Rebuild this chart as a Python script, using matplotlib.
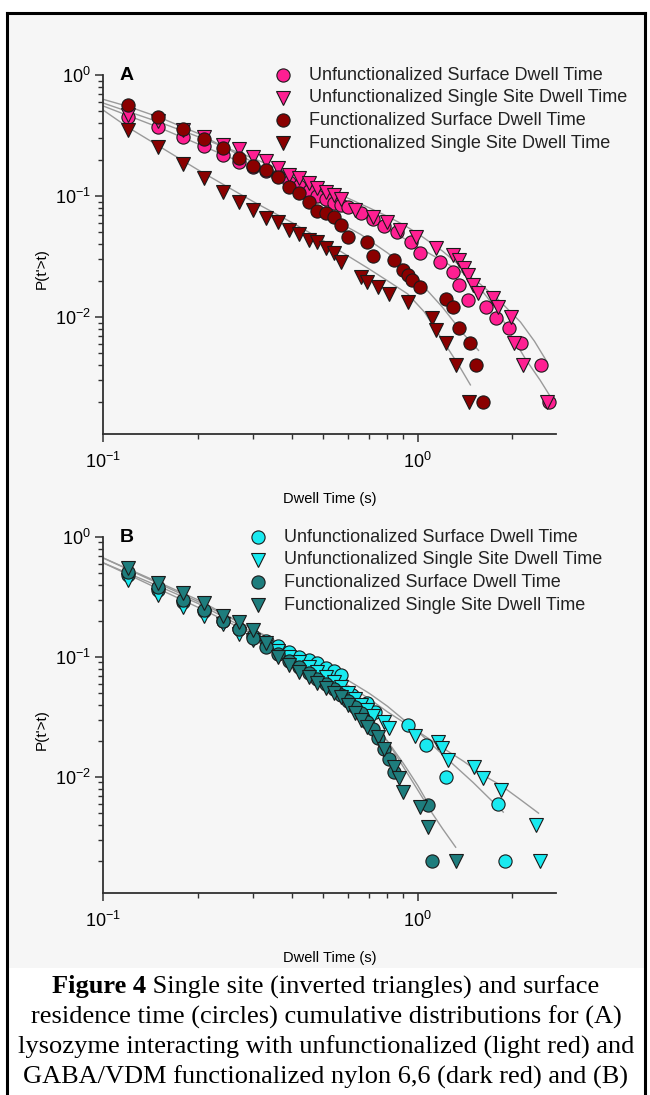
import matplotlib
matplotlib.use("Agg")
import matplotlib.pyplot as plt
from matplotlib.lines import Line2D
from matplotlib.patches import Rectangle
from matplotlib.ticker import FixedLocator, FixedFormatter, LogLocator, NullFormatter

plt.rcParams['font.family'] = ['Liberation Sans', 'DejaVu Sans']
plt.rcParams['mathtext.fontset'] = 'custom'
plt.rcParams['mathtext.rm'] = 'Liberation Sans'
plt.rcParams['mathtext.it'] = 'Liberation Sans:italic'
plt.rcParams['mathtext.bf'] = 'Liberation Sans:bold'

# ---- data (dwell time in s, P(t'>t)) ----
legend_labels = ["Unfunctionalized Surface Dwell Time",
                 "Unfunctionalized Single Site Dwell Time",
                 "Functionalized Surface Dwell Time",
                 "Functionalized Single Site Dwell Time"]

# panel A: lysozyme
a_uf_surf_t = [0.12, 0.15, 0.18, 0.21, 0.24, 0.27, 0.30, 0.33, 0.36, 0.39, 0.42, 0.45, 0.48, 0.51, 0.54, 0.57,
               0.60, 0.66, 0.72, 0.78, 0.86, 0.95, 1.02, 1.18, 1.29, 1.35, 1.44, 1.65, 1.77, 1.95, 2.13, 2.46, 2.61]
a_uf_surf_p = [0.45, 0.37, 0.31, 0.26, 0.218, 0.19, 0.175, 0.16, 0.145, 0.13, 0.12, 0.11, 0.10, 0.094, 0.088, 0.084,
               0.081, 0.072, 0.064, 0.057, 0.05, 0.042, 0.0338, 0.0285, 0.0235, 0.0184, 0.0138, 0.0121, 0.0098, 0.0081,
               0.0061, 0.004, 0.002]
a_uf_site_t = [0.12, 0.15, 0.18, 0.21, 0.24, 0.27, 0.30, 0.33, 0.36, 0.39, 0.42, 0.45, 0.48, 0.51, 0.54, 0.57,
               0.63, 0.72, 0.80, 0.88, 0.99, 1.14, 1.29, 1.35, 1.40, 1.44, 1.50, 1.55, 1.73, 1.80, 1.98, 2.02, 2.16, 2.58]
a_uf_site_p = [0.47, 0.42, 0.35, 0.31, 0.264, 0.245, 0.21, 0.195, 0.17, 0.149, 0.14, 0.128, 0.116, 0.108, 0.102, 0.094,
               0.0766, 0.067, 0.061, 0.0524, 0.0458, 0.0372, 0.0325, 0.0296, 0.0254, 0.0222, 0.0184, 0.0158, 0.0144,
               0.0121, 0.010, 0.0061, 0.004, 0.002]
a_f_surf_t = [0.12, 0.15, 0.18, 0.21, 0.24, 0.27, 0.30, 0.33, 0.36, 0.39, 0.42, 0.45, 0.48, 0.51, 0.54, 0.57, 0.60,
              0.69, 0.72, 0.84, 0.90, 0.93, 0.96, 1.02, 1.23, 1.29, 1.35, 1.47, 1.53, 1.61]
a_f_surf_p = [0.565, 0.45, 0.36, 0.295, 0.249, 0.206, 0.177, 0.164, 0.1435, 0.1186, 0.106, 0.089, 0.075, 0.072, 0.067,
              0.0575, 0.046, 0.0417, 0.0319, 0.0296, 0.0245, 0.0222, 0.0202, 0.0177, 0.0141, 0.0121, 0.0081, 0.0061,
              0.004, 0.002]
a_f_site_t = [0.12, 0.15, 0.18, 0.21, 0.24, 0.27, 0.30, 0.33, 0.36, 0.39, 0.42, 0.45, 0.48, 0.51, 0.54, 0.57,
              0.66, 0.69, 0.75, 0.81, 0.93, 1.11, 1.14, 1.23, 1.32, 1.45]
a_f_site_p = [0.35, 0.254, 0.184, 0.141, 0.108, 0.089, 0.0766, 0.066, 0.061, 0.052, 0.049, 0.043, 0.0417, 0.037, 0.034,
              0.0285, 0.0214, 0.0195, 0.0177, 0.0155, 0.0133, 0.0098, 0.0078, 0.0061, 0.004, 0.002]

# fitted curves, panel A
a_fit_uf_surf_t = [0.1, 0.15, 0.2, 0.3, 0.4, 0.5, 0.6, 0.7, 0.8, 0.9, 1.0, 1.2, 1.4, 1.55, 1.8, 2.12, 2.35, 2.57]
a_fit_uf_surf_p = [0.555, 0.37, 0.27, 0.172, 0.125, 0.097, 0.078, 0.064, 0.053, 0.045, 0.038, 0.029, 0.023, 0.0195,
                   0.014, 0.0091, 0.0063, 0.0043]
a_fit_uf_site_t = [0.1, 0.15, 0.2, 0.3, 0.4, 0.5, 0.6, 0.7, 0.8, 0.9, 1.0, 1.2, 1.4, 1.6, 1.8, 2.0, 2.2, 2.45, 2.7]
a_fit_uf_site_p = [0.587, 0.41, 0.31, 0.205, 0.15, 0.118, 0.096, 0.08, 0.068, 0.058, 0.049, 0.035, 0.025, 0.0165,
                   0.0112, 0.0068, 0.0045, 0.003, 0.002]
a_fit_f_surf_t = [0.1, 0.12, 0.15, 0.2, 0.3, 0.4, 0.5, 0.6, 0.66, 0.8, 0.9, 1.0, 1.07, 1.2, 1.3, 1.4, 1.56]
a_fit_f_surf_p = [0.63, 0.55, 0.45, 0.33, 0.19, 0.12, 0.085, 0.055, 0.048, 0.034, 0.027, 0.021, 0.0167, 0.012, 0.0092,
                  0.0072, 0.0053]
a_fit_f_site_t = [0.1, 0.12, 0.15, 0.2, 0.25, 0.3, 0.4, 0.5, 0.6, 0.7, 0.8, 0.93, 1.05, 1.21, 1.35, 1.47]
a_fit_f_site_p = [0.514, 0.37, 0.26, 0.165, 0.118, 0.09, 0.06, 0.043, 0.032, 0.025, 0.02, 0.0155, 0.011, 0.0062,
                  0.004, 0.00275]

# panel B
b_uf_surf_t = [0.12, 0.15, 0.18, 0.21, 0.24, 0.27, 0.30, 0.33, 0.36, 0.39, 0.42, 0.45, 0.48, 0.51, 0.54, 0.57,
               0.62, 0.69, 0.73, 0.93, 1.06, 1.23, 1.80, 1.89]
b_uf_surf_p = [0.48, 0.36, 0.29, 0.24, 0.2, 0.17, 0.15, 0.135, 0.123, 0.11, 0.1, 0.095, 0.089, 0.081, 0.076, 0.071,
               0.048, 0.041, 0.035, 0.027, 0.0186, 0.01, 0.006, 0.002]
b_uf_site_t = [0.12, 0.15, 0.18, 0.21, 0.24, 0.27, 0.30, 0.33, 0.36, 0.39, 0.42, 0.45, 0.48, 0.51, 0.54, 0.57,
               0.60, 0.63, 0.66, 0.69, 0.72, 0.78, 0.81, 0.98, 1.16, 1.19, 1.25, 1.51, 1.61, 1.84, 2.37, 2.44]
b_uf_site_p = [0.44, 0.33, 0.26, 0.22, 0.19, 0.155, 0.139, 0.125, 0.112, 0.1, 0.09, 0.082, 0.075, 0.068, 0.062, 0.056,
               0.05, 0.045, 0.04, 0.036, 0.032, 0.029, 0.0256, 0.022, 0.0195, 0.0175, 0.0139, 0.0121, 0.0098, 0.0078,
               0.004, 0.002]
b_f_surf_t = [0.12, 0.15, 0.18, 0.21, 0.24, 0.27, 0.30, 0.33, 0.36, 0.39, 0.42, 0.45, 0.48, 0.51, 0.54, 0.57, 0.60,
              0.63, 0.66, 0.69, 0.72, 0.75, 0.78, 0.81, 0.84, 1.08, 1.11]
b_f_surf_p = [0.51, 0.38, 0.30, 0.245, 0.2, 0.17, 0.145, 0.121, 0.105, 0.092, 0.082, 0.073, 0.066, 0.06, 0.054, 0.048,
              0.043, 0.038, 0.034, 0.029, 0.025, 0.021, 0.017, 0.014, 0.011, 0.0058, 0.002]
b_f_site_t = [0.12, 0.15, 0.18, 0.21, 0.24, 0.27, 0.30, 0.33, 0.36, 0.39, 0.42, 0.45, 0.48, 0.51, 0.54, 0.57, 0.60,
              0.63, 0.66, 0.69, 0.75, 0.78, 0.84, 0.87, 0.90, 1.02, 1.08, 1.32]
b_f_site_p = [0.55, 0.41, 0.34, 0.28, 0.22, 0.195, 0.168, 0.13, 0.1, 0.086, 0.075, 0.068, 0.061, 0.055, 0.05, 0.046,
              0.04, 0.034, 0.03, 0.026, 0.0215, 0.017, 0.0121, 0.0098, 0.0075, 0.0056, 0.0038, 0.002]

b_fit_uf_surf_t = [0.1, 0.15, 0.2, 0.3, 0.4, 0.5, 0.6, 0.7, 0.8, 1.0, 1.25, 1.5, 1.87]
b_fit_uf_surf_p = [0.67, 0.41, 0.29, 0.17, 0.115, 0.085, 0.064, 0.05, 0.039, 0.024, 0.0139, 0.009, 0.0051]
b_fit_uf_site_t = [0.1, 0.15, 0.2, 0.3, 0.4, 0.5, 0.6, 0.7, 0.8, 1.0, 1.2, 1.4, 1.6, 1.84, 2.1, 2.42]
b_fit_uf_site_p = [0.61, 0.37, 0.26, 0.155, 0.105, 0.077, 0.058, 0.045, 0.035, 0.024, 0.0175, 0.0135, 0.0105, 0.0085,
                   0.0066, 0.005]
b_fit_f_surf_t = [0.1, 0.15, 0.2, 0.3, 0.4, 0.5, 0.6, 0.7, 0.8, 0.9, 1.0, 1.08]
b_fit_f_surf_p = [0.61, 0.39, 0.28, 0.16, 0.105, 0.07, 0.047, 0.031, 0.02, 0.013, 0.0085, 0.006]
b_fit_f_site_t = [0.1, 0.15, 0.2, 0.3, 0.4, 0.5, 0.6, 0.7, 0.8, 0.86, 1.0, 1.1, 1.2, 1.32]
b_fit_f_site_p = [0.67, 0.42, 0.3, 0.17, 0.108, 0.072, 0.048, 0.031, 0.02, 0.0147, 0.0078, 0.0052, 0.0037, 0.0026]

caption_lines = ["residence time (circles) cumulative distributions for (A)",
                 "lysozyme interacting with unfunctionalized (light red) and",
                 "GABA/VDM functionalized nylon 6,6 (dark red) and (B)"]

# ---- figure ----
W, H = 650, 1095
fig = plt.figure(figsize=(6.5, 10.95), dpi=100)
fig.patch.set_facecolor('white')

fig.patches.append(Rectangle((9 / W, 1 - 968 / H), 635 / W, (968 - 15) / H, transform=fig.transFigure,
                             facecolor='#f6f6f6', edgecolor='none', zorder=-5))
for xs, ys in [([7, 7], [13, H]), ([645, 645], [13, H]), ([7, 645], [13, 13])]:
    fig.add_artist(Line2D([x / W for x in xs], [1 - y / H for y in ys], color='black', lw=2.2))


def make_panel(top, bottom, letter, series, fits, colors):
    left, right = 103, 556
    ax = fig.add_axes([left / W, 1 - bottom / H, (right - left) / W, (bottom - top) / H])
    ax.set_zorder(2)
    ax.set_facecolor('none')
    ax.set_xscale('log')
    ax.set_yscale('log')
    ax.set_xlim(0.1, 2.75)
    ax.set_ylim(0.00108, 1.0)

    for ft, fp in fits:
        ax.plot(ft, fp, color='#9a9a9a', lw=1.0, zorder=2)
    markers = ['o', 'v', 'o', 'v']
    sizes = [9.5, 10.5, 9.5, 10.5]
    for (t, p), m, s, c in zip(series, markers, sizes, colors):
        ax.plot(t, p, ls='none', marker=m, ms=s, mfc=c, mec='#1a1a1a', mew=0.8, zorder=3, clip_on=False)

    for side in ['top', 'right']:
        ax.spines[side].set_visible(False)
    for side in ['left', 'bottom']:
        ax.spines[side].set_linewidth(1.3)
        ax.spines[side].set_color('#303030')

    ax.xaxis.set_major_locator(FixedLocator([0.1, 1.0]))
    ax.xaxis.set_major_formatter(FixedFormatter([r'10$^{-1}$', r'10$^{0}$']))
    ax.xaxis.set_minor_locator(LogLocator(base=10, subs=range(2, 10)))
    ax.xaxis.set_minor_formatter(NullFormatter())
    ax.yaxis.set_major_locator(FixedLocator([0.01, 0.1, 1.0]))
    ax.yaxis.set_major_formatter(FixedFormatter([r'10$^{-2}$', r'10$^{-1}$', r'10$^{0}$']))
    ax.yaxis.set_minor_locator(LogLocator(base=10, subs=range(2, 10)))
    ax.yaxis.set_minor_formatter(NullFormatter())
    ax.tick_params(which='major', direction='out', length=6, width=1.1, color='#303030', labelsize=13)
    ax.tick_params(which='minor', direction='out', length=3.5, width=1.0, color='#303030')
    ax.tick_params(axis='x', which='major', pad=7)
    ax.tick_params(axis='y', which='major', pad=3)

    ax.set_xlabel('Dwell Time (s)', fontsize=10.5)
    ax.xaxis.set_label_coords((330 - left) / (right - left), -(58) / (bottom - top))
    ax.set_ylabel("P(t'>t)", fontsize=11)
    ax.yaxis.set_label_coords(-(103 - 49) / (right - left), 0.46)

    fig.text(120 / W, 1 - (top + 1) / H, letter, fontsize=14, fontweight='bold', ha='left', va='center')

    # legend
    for i, (lab, m, s, c) in enumerate(zip(legend_labels, markers, sizes, colors)):
        yy = 1 - (top + i * 22.7) / H
        lx = 283 if letter == 'A' else 258
        fig.add_artist(Line2D([lx / W], [yy], ls='none', marker=m, ms=s, mfc=c, mec='#1a1a1a', mew=0.8))
        fig.text((lx + 26) / W, yy, lab, fontsize=13, ha='left', va='center', color='#222222')
    return ax


make_panel(75, 434, 'A',
           [(a_uf_surf_t, a_uf_surf_p), (a_uf_site_t, a_uf_site_p), (a_f_surf_t, a_f_surf_p), (a_f_site_t, a_f_site_p)],
           [(a_fit_uf_surf_t, a_fit_uf_surf_p), (a_fit_uf_site_t, a_fit_uf_site_p),
            (a_fit_f_surf_t, a_fit_f_surf_p), (a_fit_f_site_t, a_fit_f_site_p)],
           ['#ff1f92', '#ff1f92', '#8a0000', '#8a0000'])
make_panel(537, 893, 'B',
           [(b_uf_surf_t, b_uf_surf_p), (b_uf_site_t, b_uf_site_p), (b_f_surf_t, b_f_surf_p), (b_f_site_t, b_f_site_p)],
           [(b_fit_uf_surf_t, b_fit_uf_surf_p), (b_fit_uf_site_t, b_fit_uf_site_p),
            (b_fit_f_surf_t, b_fit_f_surf_p), (b_fit_f_site_t, b_fit_f_site_p)],
           ['#19eaf0', '#19eaf0', '#1e7d7d', '#1e7d7d'])

# caption, first line mixes bold and regular
cap_font = dict(family=['Liberation Serif', 'DejaVu Serif'], fontsize=19.0, va='center')
y0 = 987
renderer = fig.canvas.get_renderer()
t1 = fig.text(0, 1 - y0 / H, 'Figure 4', fontweight='bold', ha='left', **cap_font)
t2 = fig.text(0, 1 - y0 / H, ' Single site (inverted triangles) and surface', ha='left', **cap_font)
w1 = t1.get_window_extent(renderer).width
w2 = t2.get_window_extent(renderer).width
x_start = 326 - (w1 + w2) / 2
t1.set_x(x_start / W)
t2.set_x((x_start + w1) / W)
for i, line in enumerate(caption_lines):
    fig.text(326 / W, 1 - (y0 + 30 * (i + 1)) / H, line, ha='center', **cap_font)

fig.savefig('out.png', dpi=100)
